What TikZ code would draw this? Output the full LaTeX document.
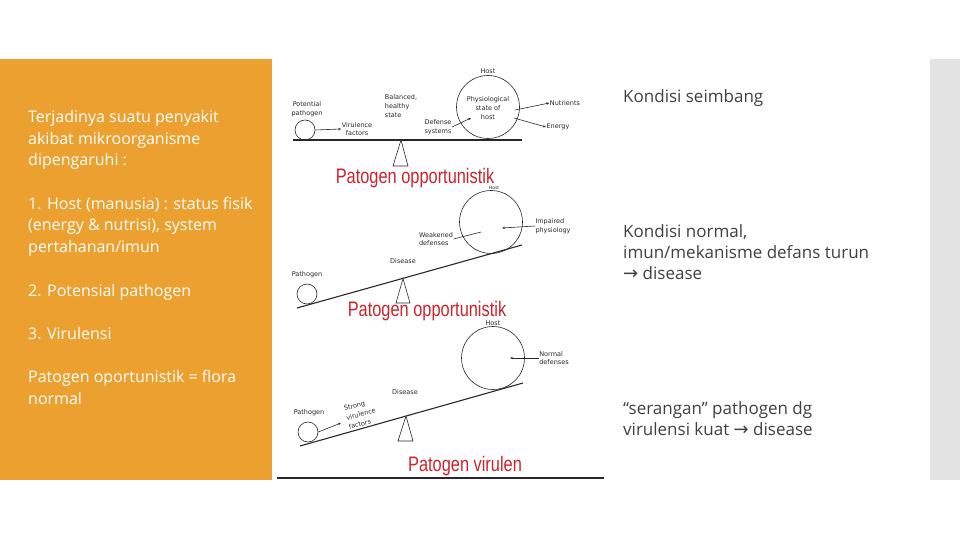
\documentclass[tikz,border=0pt]{standalone}
\usepackage{fontspec}
\setmainfont{Open Sans}
\newfontfamily\figfont{DejaVu Sans}
\newfontfamily\redfont{Liberation Sans}
\newfontfamily\symfont{DejaVu Sans}
\usetikzlibrary{positioning,arrows.meta}
\definecolor{slideorange}{RGB}{235,160,48}
\definecolor{bandgray}{RGB}{227,227,227}
\definecolor{bodygray}{RGB}{64,64,64}
\definecolor{labelred}{RGB}{205,35,45}
\definecolor{inkgray}{RGB}{40,40,40}

\tikzset{
  tiny/.style={font=\figfont\fontsize{6.5}{8.8}\selectfont, align=center, inner sep=0.5pt, text=inkgray},
  redlbl/.style={font=\redfont\fontsize{21}{24}\selectfont, text=labelred, inner sep=0pt},
  lefttxt/.style={font=\fontsize{16}{21.5}\selectfont, text=white, align=left, anchor=base west, inner sep=0pt},
  righttxt/.style={font=\fontsize{17}{21}\selectfont, text=bodygray, align=left, anchor=base west, inner sep=0pt},
  beam/.style={draw=inkgray, line width=1.1pt},
  fulcrum/.style={draw=inkgray, line width=0.6pt, fill=white},
  germ/.style={circle, draw=inkgray, line width=0.6pt, minimum size=20pt, inner sep=0pt},
  hostc/.style={circle, draw=inkgray, line width=0.6pt, minimum size=63pt, inner sep=0pt},
  arr/.style={-{Stealth[length=3pt,width=2.4pt]}, draw=inkgray, line width=0.6pt}
}
\newcommand{\rarr}{{\symfont\fontsize{18}{21}\selectfont →}}

\begin{document}
\begin{tikzpicture}[x=1pt,y=-1pt]
  \useasboundingbox (0,0) rectangle (960,540);
  \fill[slideorange] (0,59) rectangle (272,480);
  \fill[bandgray] (930,59) rectangle (960,480);

  % left column (anchored on the last line)
  \node[lefttxt] (intro) at (28,166) {Terjadinya suatu penyakit\\akibat mikroorganisme\\dipengaruhi :};
  \node[lefttxt] (item1) at (28,252) {1. Host (manusia) : status fisik\\(energy \& nutrisi), system\\pertahanan/imun};
  \node[lefttxt] (item2) at (28,296) {2. Potensial pathogen};
  \node[lefttxt] (item3) at (28,339) {3. Virulensi};
  \node[lefttxt] (flora) at (28,404) {Patogen oportunistik = flora\\normal};

  % right column
  \node[righttxt] (seimbang) at (623,103) {Kondisi seimbang};
  \node[righttxt] (normal) at (623,279) {Kondisi normal,\\imun/mekanisme defans turun\\\rarr\ disease};
  \node[righttxt] (serang) at (623,435) {“serangan” pathogen dg\\virulensi kuat \rarr\ disease};

  % panel 1: balanced
  \coordinate (b1l) at (293,140);
  \coordinate (b1r) at (522,140);
  \draw[beam] (b1l) -- (b1r);
  \draw[fulcrum] (401,140) -- (393,166) -- (408,166) -- cycle;
  \node[germ] (pat1) at (305,130) {};
  \node[hostc] (host1) at (488,107) {};
  \node[tiny] (hostlbl1) at (488,71) {Host};
  \node[tiny] (pot1) at (307,109) {Potential\\pathogen};
  \node[tiny] (vir1) at (357,129) {Virulence\\factors};
  \node[tiny, align=left] (bal1) at (401,106) {Balanced,\\healthy\\state};
  \node[tiny] (def1) at (438,127) {Defense\\systems};
  \node[tiny] (phy1) at (488,108) {Physiological\\state of\\host};
  \node[tiny] (nut1) at (565,103) {Nutrients};
  \node[tiny] (ene1) at (558,127) {Energy};
  \coordinate (def1in) at (471,118);
  \coordinate (nut1in) at (515,110);
  \coordinate (ene1in) at (514,118);
  \draw[arr] (pat1.east) -- (vir1.west);
  \draw[arr] (def1.east) -- (def1in);
  \draw[arr] (nut1in) -- (nut1.west);
  \draw[arr] (ene1in) -- (ene1.west);
  \node[redlbl] (title1) at (415,178) {\scalebox{0.78}[1]{Patogen opportunistik}};

  % panel 2: weakened host
  \coordinate (b2l) at (297,308);
  \coordinate (b2r) at (522,245);
  \draw[beam] (b2l) -- (b2r);
  \draw[fulcrum] (403,278.5) -- (396,303) -- (410,303) -- cycle;
  \node[germ] (pat2) at (307,294) {};
  \node[hostc] (host2) at (491,222) {};
  \node[tiny, font=\figfont\fontsize{4.5}{5}\selectfont] (hostlbl2) at (494,187.5) {Host};
  \node[tiny, align=left] (imp2) at (553,226) {Impaired\\physiology};
  \node[tiny, align=left] (wea2) at (436,239) {Weakened\\defenses};
  \node[tiny] (dis2) at (403,261) {Disease};
  \node[tiny] (pth2) at (307,275) {Pathogen};
  \coordinate (imp2in) at (502,228);
  \coordinate (wea2in) at (481,232);
  \draw[arr] (imp2.west) -- (imp2in);
  \draw[draw=inkgray, line width=0.6pt] (wea2.east) -- (wea2in);
  \node[redlbl] (title2) at (427,311) {\scalebox{0.78}[1]{Patogen opportunistik}};

  % panel 3: virulent pathogen
  \coordinate (b3l) at (300,446);
  \coordinate (b3r) at (523,383);
  \draw[beam] (b3l) -- (b3r);
  \draw[fulcrum] (406,416) -- (398,441) -- (413,441) -- cycle;
  \node[germ] (pat3) at (308,432) {};
  \node[hostc] (host3) at (493,358) {};
  \node[tiny] (hostlbl3) at (493,323) {Host};
  \node[tiny, align=left] (nor3) at (554,358) {Normal\\defenses};
  \node[tiny] (dis3) at (405,392) {Disease};
  \node[tiny] (pth3) at (309,413) {Pathogen};
  \node[tiny, align=left, rotate=15, font=\figfont\fontsize{6.5}{9.5}\selectfont] (str3) at (361,414) {Strong\\virulence\\factors};
  \coordinate (nor3in) at (510,358);
  \coordinate (str3in) at (341,423);
  \draw[arr] (nor3.west) -- (nor3in);
  \draw[arr] (pat3.east) -- (str3in);
  \node[redlbl] (title3) at (465,466) {\scalebox{0.78}[1]{Patogen virulen}};

  \draw[inkgray, line width=2pt] (277,478) -- (604,478);
\end{tikzpicture}
\end{document}
